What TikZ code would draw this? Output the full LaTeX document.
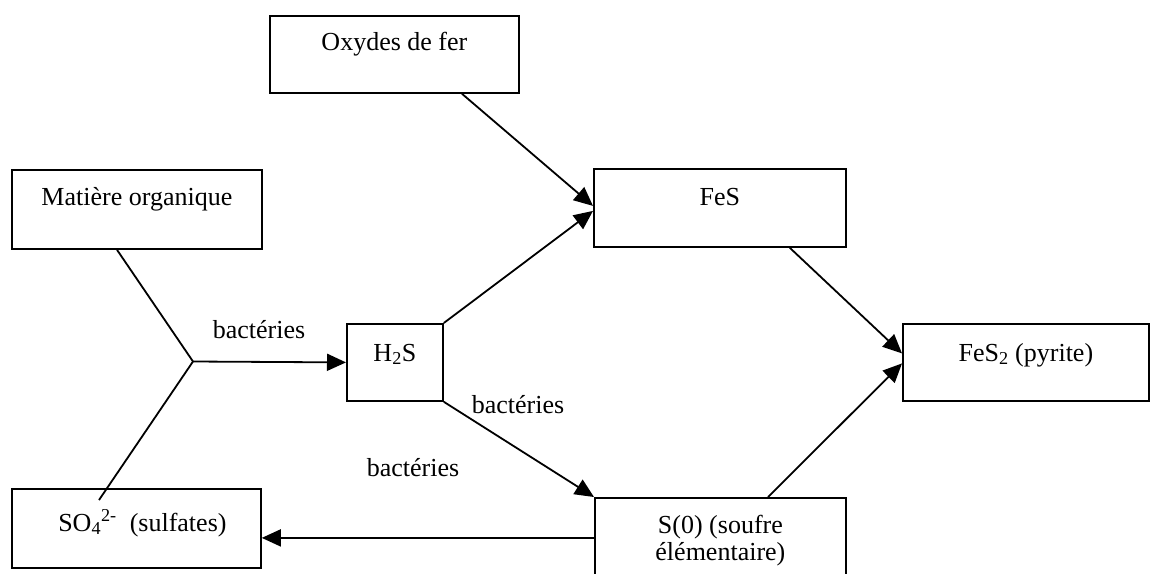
\documentclass[tikz,border=0pt]{standalone}
\usepackage{fontspec}
\setmainfont{Liberation Serif}
\usetikzlibrary{arrows.meta}
\begin{document}
\begin{tikzpicture}[x=1pt,y=-1pt,
  font=\fontsize{26}{31}\selectfont,
  box/.style={draw, line width=1.8pt, rectangle, anchor=north west, inner sep=0pt},
  lbl/.style={anchor=base, inner sep=0pt},
  ln/.style={line width=1.8pt},
  arr/.style={line width=1.8pt, -{Triangle[length=19pt,width=17pt]}}]
\useasboundingbox (0,0) rectangle (1150,573);
\clip (0,0) rectangle (1150,573);
% boxes
\node[box, minimum width=249pt, minimum height=77pt] (oxy) at (269,15) {};
\node[box, minimum width=250pt, minimum height=79pt] (mat) at (11,169) {};
\node[box, minimum width=252pt, minimum height=78pt] (fes) at (593,168) {};
\node[box, minimum width=96pt, minimum height=77pt] (h2s) at (346,323) {};
\node[box, minimum width=246pt, minimum height=77pt] (fes2) at (902,323) {};
\node[box, minimum width=249pt, minimum height=79pt] (so4) at (11,488) {};
\node[box, minimum width=251pt, minimum height=90pt] (s0) at (594,497) {};
% texts
\node[lbl] (oxyT) at ([yshift=-35pt]oxy.north) {Oxydes de fer};
\node[lbl] (matT) at ([yshift=-36pt]mat.north) {Matière organique};
\node[lbl] (fesT) at ([yshift=-37pt]fes.north) {FeS};
\node[lbl] (h2sT) at ([yshift=-38pt]h2s.north) {H\textsubscript{2}S};
\node[lbl] (fes2T) at ([yshift=-38pt]fes2.north) {FeS\textsubscript{2} (pyrite)};
\node[lbl] (so4T) at ([yshift=-43pt, xshift=6pt]so4.north) {SO\textsubscript{4}\textsuperscript{2-}\ \ (sulfates)};
\node[lbl] (s0Ta) at ([yshift=-36pt]s0.north) {S(0) (soufre};
\node[lbl] (s0Tb) at ([yshift=-63pt]s0.north) {élémentaire)};
% connectors
\coordinate (j) at (193,361.5);
\draw[ln] ([xshift=106pt]mat.south west) -- (j);
\draw[ln] ([xshift=88pt,yshift=-12pt]so4.north west) -- (j);
\draw[arr] (j) -- (h2s.west);
\node[lbl] (lb1) at (259,338) {bactéries};
\draw[arr] ([xshift=193pt]oxy.south west) -- ([yshift=2pt]fes.west);
\draw[arr] (h2s.north east) -- ([yshift=-3pt]fes.west);
\draw[arr] ([xshift=-57pt]fes.south east) -- ([yshift=9pt]fes2.west);
\draw[arr] ([xshift=174pt]s0.north west) -- ([yshift=-1pt]fes2.west);
\draw[arr] (h2s.south east) -- (s0.north west);
\node[lbl] (lb2) at (518,413) {bactéries};
\draw[arr] ([yshift=5pt]s0.west) -- ([yshift=5pt]s0.west -| so4.east);
\node[lbl] (lb3) at (413,476) {bactéries};
\end{tikzpicture}
\end{document}
